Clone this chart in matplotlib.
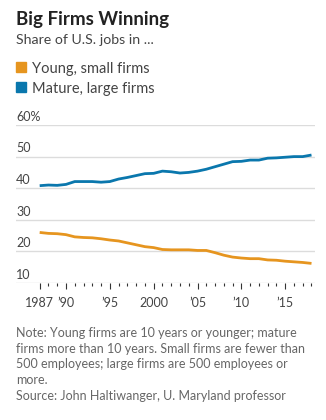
import matplotlib.pyplot as plt
import matplotlib.transforms as mtransforms
from matplotlib.patches import Rectangle

plt.rcParams['font.family'] = ['Lato', 'DejaVu Sans']

years = list(range(1987, 2019))
mature_large = [40.8, 41.0, 40.9, 41.2, 42.1, 42.1, 42.1, 41.9, 42.1, 42.9,
                43.4, 44.0, 44.6, 44.7, 45.4, 45.2, 44.8, 45.0, 45.4, 46.0,
                46.8, 47.6, 48.4, 48.5, 48.9, 48.9, 49.5, 49.6, 49.8, 50.0,
                50.0, 50.5]
young_small = [26.0, 25.7, 25.6, 25.3, 24.6, 24.4, 24.3, 24.0, 23.6, 23.3,
               22.7, 22.1, 21.5, 21.2, 20.6, 20.5, 20.5, 20.5, 20.3, 20.3,
               19.6, 18.8, 18.2, 17.9, 17.7, 17.7, 17.3, 17.2, 16.9, 16.7,
               16.5, 16.2]
y_ticks = [10, 20, 30, 40, 50, 60]
y_labels = ['10', '20', '30', '40', '50', '60%']
x_ticks = [1987, 1990, 1995, 2000, 2005, 2010, 2015]
x_labels = ['1987', '’90', '’95', '2000', '’05', '’10', '’15']

BLUE = '#0a77ad'
ORANGE = '#e6951f'
GRID = '#dcdcdc'
TEXT = '#444444'
NOTE = '#666666'

fig = plt.figure(figsize=(3.26, 4.2), dpi=100)
W, H = 326, 420

def fx(px):
    return px / W

def fy(py):
    return 1 - py / H

ax = fig.add_axes([fx(16), fy(283), fx(315) - fx(16), fy(125) - fy(283)])
ax.set_xlim(1984.3, 2018.4)
ax.set_ylim(10, 60)

for v in y_ticks:
    ax.axhline(v, color=GRID, lw=1.0, zorder=1)

ax.plot(years, mature_large, color=BLUE, lw=2.0, zorder=3, solid_capstyle='butt')
ax.plot(years, young_small, color=ORANGE, lw=2.0, zorder=3, solid_capstyle='butt')

for sp in ax.spines.values():
    sp.set_visible(False)
ax.set_yticks([])
ax.set_xticks(x_ticks)
ax.set_xticklabels(x_labels, fontsize=9, color=TEXT)
ax.set_xticks(years, minor=True)
ax.tick_params(axis='x', which='major', length=4, width=0.8, color='#333333', pad=6)
ax.tick_params(axis='x', which='minor', length=2.5, width=0.8, color='#333333')

trans = mtransforms.blended_transform_factory(ax.transAxes, ax.transData)
for v, lab in zip(y_ticks, y_labels):
    ax.text(0, v + 0.7, lab, transform=trans, ha='left', va='bottom',
            fontsize=9, color=TEXT)

fig.text(fx(16), fy(25), 'Big Firms Winning', fontsize=13.5, fontweight='bold',
         color='#222222', ha='left', va='baseline')
fig.text(fx(16), fy(44), 'Share of U.S. jobs in ...', fontsize=10.2,
         color='#444444', ha='left', va='baseline')

for i, (lab, col) in enumerate([('Young, small firms', ORANGE),
                                ('Mature, large firms', BLUE)]):
    top = 62 + i * 20
    fig.patches.append(Rectangle((fx(16), fy(top + 10)), fx(10), fy(top) - fy(top + 10),
                                 transform=fig.transFigure, color=col))
    fig.text(fx(32), fy(top + 11), lab, fontsize=10.5, color='#444444',
             ha='left', va='baseline')

notes = ['Note: Young firms are 10 years or younger; mature',
         'firms more than 10 years. Small firms are fewer than',
         '500 employees; large firms are 500 employees or',
         'more.',
         'Source: John Haltiwanger, U. Maryland professor']
for i, line in enumerate(notes):
    fig.text(fx(16), fy(337 + i * 15.7), line, fontsize=9, color=NOTE,
             ha='left', va='baseline')

fig.savefig('out.png', dpi=100)
